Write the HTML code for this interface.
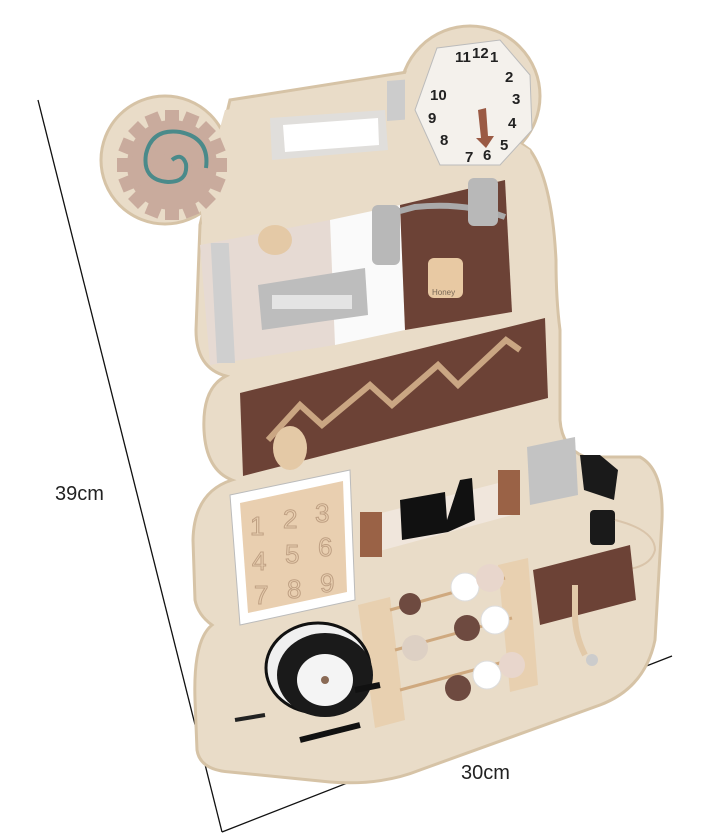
<!DOCTYPE html>
<html><head><style>
html,body{margin:0;padding:0;background:#fff;}
svg{display:block}
text{font-family:"Liberation Sans",sans-serif}
</style></head><body>
<svg width="720" height="836" viewBox="0 0 720 836">
<rect width="720" height="836" fill="#fff"/>
<line x1="38" y1="100" x2="222" y2="832" stroke="#111" stroke-width="1.3"/>
<line x1="222" y1="832" x2="672" y2="656" stroke="#111" stroke-width="1.3"/>
<text x="55" y="500" font-size="20" fill="#222">39cm</text>
<text x="461" y="779" font-size="20" fill="#222">30cm</text>
<!-- board -->
<g fill="#e9dcc8" stroke="#d6c3a6" stroke-width="3">
<circle cx="165" cy="160" r="64"/>
<circle cx="470" cy="96" r="70"/>
<path d="M200 225 L196 330 Q196 368 226 376 Q202 388 204 430 Q206 470 232 480 Q194 492 193 540 L195 600 Q198 615 212 625 Q193 640 195 700 L197 750 Q200 770 230 772 L330 782 Q380 786 420 770 L600 705 Q645 688 655 640 L662 520 Q664 470 640 457 L585 457 Q562 448 560 420 L560 330 Q556 300 556 260 Q552 180 530 150 L420 70 L230 100 Z"/>
</g>
<g fill="#e9dcc8">
<circle cx="165" cy="160" r="62"/>
<circle cx="470" cy="96" r="68"/>
<path d="M200 200 L225 110 L420 80 L530 150 L540 240 L205 260 Z"/>
</g>
<!-- gear -->
<g fill="#c9ab9d">
<circle cx="172" cy="165" r="45"/>
<g stroke="#c9ab9d" stroke-width="14">
<line x1="172" y1="110" x2="172" y2="220"/><line x1="117" y1="165" x2="227" y2="165"/>
<line x1="133" y1="126" x2="211" y2="204"/><line x1="211" y1="126" x2="133" y2="204"/>
<line x1="151" y1="114" x2="193" y2="216"/><line x1="193" y1="114" x2="151" y2="216"/>
<line x1="121" y1="144" x2="223" y2="186"/><line x1="223" y1="144" x2="121" y2="186"/>
</g></g>
<path d="M172 160 q10 -8 14 4 q2 18 -18 18 q-26 -2 -22 -28 q6 -26 34 -22 q30 6 26 36" fill="none" stroke="#4a8a8a" stroke-width="4"/>
<!-- velcro -->
<polygon points="270,118 385,110 388,150 272,160" fill="#e0dedb"/>
<polygon points="283,125 378,118 379,145 285,152" fill="#fff"/>
<rect x="387" y="108" width="18" height="40" fill="#ccc" transform="skewY(-4)"/>
<!-- clock -->
<polygon points="437,48 500,40 530,75 532,130 500,165 440,165 415,110" fill="#f4f1ec" stroke="#bbb"/>
<g font-size="15" font-weight="bold" fill="#222" font-family="Liberation Serif">
<text x="455" y="62">11</text><text x="472" y="58">12</text><text x="490" y="62">1</text>
<text x="505" y="82">2</text><text x="512" y="104">3</text><text x="508" y="128">4</text>
<text x="500" y="150">5</text><text x="483" y="160">6</text><text x="465" y="162">7</text>
<text x="440" y="145">8</text><text x="428" y="123">9</text><text x="430" y="100">10</text>
</g>
<path d="M478 110 l8 -2 l2 28 l6 0 l-8 12 l-10 -10 l5 0 z" fill="#9a5a44"/>
<!-- top panel -->
<polygon points="200,245 330,220 335,345 210,365" fill="#e6dad3"/>
<polygon points="330,220 400,205 405,330 335,345" fill="#fafafa"/>
<polygon points="400,205 505,180 512,312 405,330" fill="#6c4236"/>
<rect x="198" y="243" width="18" height="120" fill="#cfcfcf" transform="skewX(3)"/>
<path d="M385 215 l30 -8 q50 -5 90 10" stroke="#aaa" stroke-width="6" fill="none"/>
<rect x="372" y="205" width="28" height="60" rx="6" fill="#b8b8b8"/>
<rect x="468" y="178" width="30" height="48" rx="6" fill="#b8b8b8"/>
<polygon points="258,285 365,268 368,315 262,330" fill="#bdbdbd"/>
<rect x="272" y="295" width="80" height="14" fill="#e4e4e4"/>
<ellipse cx="275" cy="240" rx="17" ry="15" fill="#e4c9a6"/>
<rect x="428" y="258" width="35" height="40" rx="6" fill="#e8c9a3"/>
<text x="432" y="295" font-size="8" fill="#765">Honey</text>
<!-- zigzag panel -->
<polygon points="240,393 545,318 548,398 243,476" fill="#6c4236"/>
<polyline points="268,440 300,405 322,425 370,385 392,405 438,365 458,385 506,340 520,350" fill="none" stroke="#caa683" stroke-width="6"/>
<ellipse cx="290" cy="448" rx="17" ry="22" fill="#e4c9a6"/>
<!-- puzzle -->
<polygon points="230,495 350,470 355,600 240,625" fill="#fff" stroke="#bbb"/>
<polygon points="240,503 343,481 347,592 248,613" fill="#e9cfb0"/>
<g font-size="26" fill="none" stroke="#bfa083" stroke-width="1" font-family="Liberation Sans">
<text x="250" y="535">1</text><text x="283" y="528">2</text><text x="315" y="522">3</text>
<text x="252" y="570">4</text><text x="285" y="563">5</text><text x="318" y="556">6</text>
<text x="254" y="604">7</text><text x="287" y="598">8</text><text x="320" y="592">9</text></g>
<!-- buckle strap -->
<polygon points="362,518 510,480 512,515 365,555" fill="#f0e6dc"/>
<rect x="360" y="512" width="22" height="45" fill="#9a6246"/>
<rect x="498" y="470" width="22" height="45" fill="#9a6246"/>
<polygon points="400,500 445,492 447,520 460,480 472,478 475,520 448,532 402,540" fill="#111"/>
<!-- lock -->
<polygon points="527,447 575,437 578,495 530,505" fill="#c3c3c3"/>
<path d="M580 455 l20 0 l18 15 l-4 30 l-30 -10 z" fill="#1a1a1a"/>
<rect x="590" y="510" width="25" height="35" rx="4" fill="#1a1a1a"/>
<path d="M615 520 q40 10 40 30 q-5 20 -40 20" fill="none" stroke="#d9c4aa" stroke-width="2"/>
<!-- right brown -->
<polygon points="533,570 630,545 636,600 540,625" fill="#6c4236"/>
<path d="M575 585 l0 30 q0 20 10 40" stroke="#e2c9a8" stroke-width="6" fill="none"/>
<circle cx="592" cy="660" r="6" fill="#ccc"/>
<!-- abacus -->
<polygon points="358,605 390,597 405,720 375,728" fill="#e8d0b0"/>
<polygon points="498,565 528,558 538,685 510,692" fill="#e8d0b0"/>
<g stroke="#cfa97f" stroke-width="3"><line x1="390" y1="610" x2="505" y2="578"/><line x1="395" y1="650" x2="512" y2="618"/><line x1="400" y1="690" x2="518" y2="658"/></g>
<g>
<circle cx="410" cy="604" r="11" fill="#6e4a40"/><circle cx="465" cy="587" r="14" fill="#fff" stroke="#ddd"/><circle cx="490" cy="578" r="14" fill="#e8d6cc"/>
<circle cx="415" cy="648" r="13" fill="#ddd0c4"/><circle cx="467" cy="628" r="13" fill="#6e4a40"/><circle cx="495" cy="620" r="14" fill="#fff" stroke="#ddd"/>
<circle cx="458" cy="688" r="13" fill="#6e4a40"/><circle cx="487" cy="675" r="14" fill="#fff" stroke="#ddd"/><circle cx="512" cy="665" r="13" fill="#e8d6cc"/>
</g>
<!-- reel -->
<ellipse cx="318" cy="668" rx="52" ry="45" fill="#f0f0f0" stroke="#111" stroke-width="3"/>
<ellipse cx="325" cy="675" rx="48" ry="42" fill="#1a1a1a"/>
<ellipse cx="325" cy="680" rx="28" ry="26" fill="#f4f4f4"/>
<circle cx="325" cy="680" r="4" fill="#8a6a55"/>
<path d="M355 690 l25 -5 M300 740 l60 -15" stroke="#111" stroke-width="6"/>
<path d="M235 720 l30 -5" stroke="#222" stroke-width="4"/>
</svg>
</body></html>
